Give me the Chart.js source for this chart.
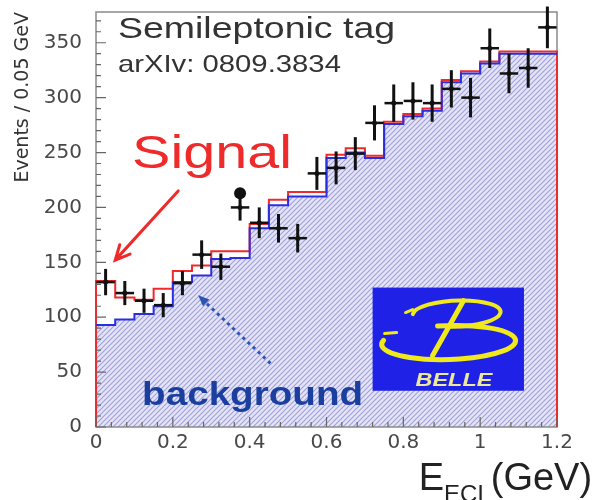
<!DOCTYPE html>
<html>
<head>
<meta charset="utf-8">
<script src="https://cdn.jsdelivr.net/npm/chart.js@4.4.0/dist/chart.umd.min.js"></script>
<style>
  html, body { margin: 0; padding: 0; background: #fff; }
  #wrap { width: 592px; height: 500px; }
</style>
</head>
<body>
<div id="wrap"><canvas id="grafica" width="592" height="500"></canvas></div>
<script>
// bins of 0.05 GeV
const binEdges = [0, 0.05, 0.1, 0.15, 0.2, 0.25, 0.3, 0.35, 0.4, 0.45, 0.5, 0.55, 0.6,
                  0.65, 0.7, 0.75, 0.8, 0.85, 0.9, 0.95, 1.0, 1.05, 1.1, 1.15, 1.2];
const binCenters = [0.025, 0.075, 0.125, 0.175, 0.225, 0.275, 0.325, 0.375, 0.425, 0.475, 0.525, 0.575,
                    0.625, 0.675, 0.725, 0.775, 0.825, 0.875, 0.925, 0.975, 1.025, 1.075, 1.125, 1.175];

// measured events (black crosses)
const dataEvents = [132, 122, 115, 111, 131, 157, 146, 200, 186, 181, 172, 231,
                    236, 249, 277, 295, 297, 295, 308, 300, 345, 322, 327, 364];
const dataErrors = [12, 11, 11, 11, 11, 13, 12, 12, 14, 13, 13, 15,
                    15, 15, 16, 17, 17, 17, 17, 18, 18, 18, 18, 19];
// background MC (blue) and signal + background (red)
const bkgEvents   = [93, 98, 103, 110, 132, 138, 153, 154, 181, 202, 210, 210,
                     245, 250, 245, 276, 283, 288, 314, 322, 331, 340, 340, 340];
const totalEvents = [133, 118, 116, 126, 142, 147, 160, 160, 185, 207, 214, 214,
                     248, 254, 247, 278, 285, 290, 316, 324, 333, 342, 342, 342];
const extraMarker = [{ x: 0.375, y: 213 }];

const xTicks = [0, 0.2, 0.4, 0.6, 0.8, 1, 1.2];
const yTicks = [0, 50, 100, 150, 200, 250, 300, 350];

function stepPoints(values, closed) {
  const pts = values.map((v, i) => ({ x: binEdges[i], y: v }));
  pts.push({ x: binEdges[binEdges.length - 1], y: values[values.length - 1] });
  if (closed) {
    pts.unshift({ x: binEdges[0], y: 0 });
    pts.push({ x: binEdges[binEdges.length - 1], y: 0 });
  }
  return pts;
}

function makeHatch() {
  const c = document.createElement('canvas');
  c.width = 5; c.height = 5;
  const g = c.getContext('2d');
  g.fillStyle = '#e4e4f6';
  g.fillRect(0, 0, 5, 5);
  g.strokeStyle = '#a2a2dc';
  g.lineWidth = 1.2;
  g.beginPath();
  g.moveTo(0, 5); g.lineTo(5, 0);
  g.moveTo(-2.5, 2.5); g.lineTo(2.5, -2.5);
  g.moveTo(2.5, 7.5); g.lineTo(7.5, 2.5);
  g.stroke();
  return document.getElementById('grafica').getContext('2d').createPattern(c, 'repeat');
}

// text stretched horizontally by sx, returns drawn width
function text(ctx, str, x, y, size, weight, color, sx, style) {
  ctx.save();
  ctx.translate(x, y);
  ctx.scale(sx, 1);
  ctx.font = (style || 'normal') + ' ' + weight + ' ' + size + 'px "Liberation Sans", Arial, sans-serif';
  ctx.fillStyle = color;
  ctx.textBaseline = 'alphabetic';
  ctx.textAlign = 'left';
  ctx.fillText(str, 0, 0);
  const w = ctx.measureText(str).width * sx;
  ctx.restore();
  return w;
}

// frame drawn under the lines
const framePlugin = {
  id: 'frame',
  beforeDatasetsDraw(chart) {
    const { ctx, chartArea: a } = chart;
    ctx.save();
    ctx.strokeStyle = '#8a8a8a';
    ctx.lineWidth = 1.5;
    ctx.strokeRect(a.left, a.top, a.right - a.left, a.bottom - a.top);
    ctx.restore();
  }
};

// error bars, axis ticks, labels and logo
const decoPlugin = {
  id: 'deco',
  afterDatasetsDraw(chart) {
    const { ctx, chartArea: a } = chart;
    const xs = chart.scales.x, ys = chart.scales.y;
    const px = v => xs.getPixelForValue(v);
    const py = v => ys.getPixelForValue(v);

    // ticks inside the frame
    ctx.save();
    ctx.strokeStyle = '#666';
    ctx.lineWidth = 1.2;
    ctx.beginPath();
    for (let v = 0; v <= 370; v += 10) {
      const len = v % 50 === 0 ? 10 : 5;
      ctx.moveTo(a.left, py(v)); ctx.lineTo(a.left + len, py(v));
    }
    for (let i = 0; i <= 30; i++) {
      const v = i * 0.04;
      const len = i % 5 === 0 ? 10 : 5;
      ctx.moveTo(px(v), a.bottom); ctx.lineTo(px(v), a.bottom - len);
    }
    ctx.stroke();
    ctx.restore();

    // error bars
    ctx.save();
    ctx.strokeStyle = '#111';
    binCenters.forEach((c, i) => {
      ctx.lineWidth = 3;
      ctx.beginPath();
      ctx.moveTo(px(c), py(dataEvents[i] - dataErrors[i]));
      ctx.lineTo(px(c), py(dataEvents[i] + dataErrors[i]));
      ctx.stroke();
      ctx.lineWidth = 2.5;
      ctx.beginPath();
      ctx.moveTo(px(c - 0.024), py(dataEvents[i]));
      ctx.lineTo(px(c + 0.024), py(dataEvents[i]));
      ctx.stroke();
    });
    ctx.restore();

    // labels
    text(ctx, 'Semileptonic tag', px(0.057), py(354), 30, 'normal', '#333', 1.25);
    text(ctx, 'arXIv: 0809.3834', px(0.057), py(323), 24, 'normal', '#333', 1.22);
    text(ctx, 'Signal', px(0.094), py(236), 46, 'normal', '#ee2a2a', 1.25);
    text(ctx, 'background', px(0.12), py(20), 33, 'bold', '#1a3f9e', 1.17);

    // red arrow to signal region
    ctx.save();
    ctx.strokeStyle = '#ee2a2a';
    ctx.lineWidth = 3;
    ctx.lineCap = 'round';
    const t = { x: px(0.05), y: py(152) }, s = { x: px(0.214), y: py(215) };
    ctx.beginPath();
    ctx.moveTo(s.x, s.y); ctx.lineTo(t.x, t.y);
    const ang = Math.atan2(s.y - t.y, s.x - t.x);
    ctx.moveTo(t.x + 16 * Math.cos(ang - 0.45), t.y + 16 * Math.sin(ang - 0.45));
    ctx.lineTo(t.x, t.y);
    ctx.lineTo(t.x + 16 * Math.cos(ang + 0.45), t.y + 16 * Math.sin(ang + 0.45));
    ctx.stroke();
    ctx.restore();

    // dotted blue arrow to background
    ctx.save();
    ctx.strokeStyle = '#2a55b0';
    ctx.fillStyle = '#2a55b0';
    ctx.lineWidth = 3;
    ctx.setLineDash([3, 4]);
    const bt = { x: px(0.266), y: py(120) }, bs = { x: px(0.454), y: py(58) };
    ctx.beginPath();
    ctx.moveTo(bs.x, bs.y); ctx.lineTo(bt.x + 6, bt.y + 6);
    ctx.stroke();
    ctx.setLineDash([]);
    const ba = Math.atan2(bs.y - bt.y, bs.x - bt.x);
    ctx.beginPath();
    ctx.moveTo(bt.x, bt.y);
    ctx.lineTo(bt.x + 12 * Math.cos(ba - 0.4), bt.y + 12 * Math.sin(ba - 0.4));
    ctx.lineTo(bt.x + 12 * Math.cos(ba + 0.4), bt.y + 12 * Math.sin(ba + 0.4));
    ctx.closePath();
    ctx.fill();
    ctx.restore();

    // Belle logo
    const lx = px(0.72), ly = py(127), lw = px(1.114) - lx, lh = py(33) - ly;
    ctx.save();
    ctx.fillStyle = '#1f22e6';
    ctx.fillRect(lx, ly, lw, lh);
    ctx.translate(lx, ly);
    ctx.strokeStyle = '#f0ea1c';
    ctx.lineCap = 'round';
    // lower loop
    ctx.lineWidth = 5;
    ctx.beginPath();
    ctx.ellipse(76, 55, 67, 17, -0.03, -0.55 * Math.PI, 1.08 * Math.PI);
    ctx.stroke();
    // upper bowl
    ctx.lineWidth = 4;
    ctx.beginPath();
    ctx.ellipse(84, 26, 44, 13, -0.04, 1.03 * Math.PI, 2.56 * Math.PI);
    ctx.stroke();
    // curl ends
    ctx.lineWidth = 3;
    ctx.beginPath();
    ctx.moveTo(33, 25); ctx.lineTo(40, 22);
    ctx.moveTo(12, 46); ctx.lineTo(24, 45);
    ctx.stroke();
    // stem
    ctx.lineWidth = 5;
    ctx.beginPath();
    ctx.moveTo(60, 68); ctx.lineTo(91, 13);
    ctx.stroke();
    ctx.restore();
    ctx.save();
    ctx.translate(lx, ly);
    text(ctx, 'BELLE', 43, 98, 18, 'bold', '#ecea9c', 1.3, 'italic');
    ctx.restore();
  },
  afterDraw(chart) {
    const { ctx } = chart;
    const xs = chart.scales.x, ys = chart.scales.y;
    // x axis title with subscript
    let x = xs.getPixelForValue(0.84);
    const y = ys.getPixelForValue(-57.3);
    x += text(ctx, 'E', x, y, 38, 'normal', '#222', 1);
    x += text(ctx, 'ECL', x, y + 12, 24, 'normal', '#222', 1);
    text(ctx, '(GeV)', x, y, 38, 'normal', '#222', 1);
  }
};

const graph = document.querySelector('#grafica');

const data = {
  datasets: [
    {
      type: 'scatter',
      label: 'Data',
      data: binCenters.map((c, i) => ({ x: c, y: dataEvents[i] })),
      pointRadius: 2.5,
      pointBackgroundColor: '#111',
      pointBorderWidth: 0
    },
    {
      type: 'scatter',
      label: 'Marker',
      data: extraMarker,
      pointRadius: 6,
      pointBackgroundColor: '#111',
      pointBorderWidth: 0
    },
    {
      type: 'line',
      label: 'Background',
      data: stepPoints(bkgEvents, false),
      stepped: true,
      borderColor: '#2a2ee0',
      borderWidth: 2,
      pointRadius: 0,
      fill: 'origin',
      backgroundColor: makeHatch(),
      clip: 3
    },
    {
      type: 'line',
      label: 'Signal + background',
      data: stepPoints(totalEvents, true),
      stepped: true,
      borderColor: '#f02a2a',
      borderWidth: 2,
      pointRadius: 0,
      fill: false,
      clip: 3
    }
  ]
};

const config = {
  data: data,
  options: {
    responsive: false,
    animation: false,
    devicePixelRatio: 1,
    layout: { padding: { left: 0, top: 12, right: 35, bottom: 0 } },
    plugins: {
      legend: { display: false },
      tooltip: { enabled: false },
      filler: { drawTime: 'beforeDatasetsDraw' }
    },
    scales: {
      x: {
        type: 'linear',
        min: 0,
        max: 1.2,
        grid: { display: false, drawTicks: false },
        border: { display: false },
        afterBuildTicks: s => { s.ticks = xTicks.map(v => ({ value: v })); },
        afterFit: s => { s.height = 73; s.paddingLeft = 0; s.paddingRight = 0; },
        ticks: {
          padding: 4,
          color: '#484848',
          font: { family: '"DejaVu Sans", sans-serif', size: 20 },
          callback: v => String(v)
        }
      },
      y: {
        type: 'linear',
        min: 0,
        max: 378,
        grid: { display: false, drawTicks: false },
        border: { display: false },
        afterBuildTicks: s => { s.ticks = yTicks.map(v => ({ value: v })); },
        afterFit: s => { s.width = 96; s.paddingTop = 0; s.paddingBottom = 0; },
        ticks: {
          padding: 14,
          color: '#484848',
          font: { family: '"DejaVu Sans", sans-serif', size: 20 }
        },
        title: {
          display: true,
          text: 'Events / 0.05 GeV',
          align: 'end',
          color: '#333',
          padding: { top: 12, bottom: 0 },
          font: { family: '"DejaVu Sans", sans-serif', size: 19 }
        }
      }
    }
  },
  plugins: [framePlugin, decoPlugin]
};

new Chart(graph, config);
</script>
</body>
</html>
